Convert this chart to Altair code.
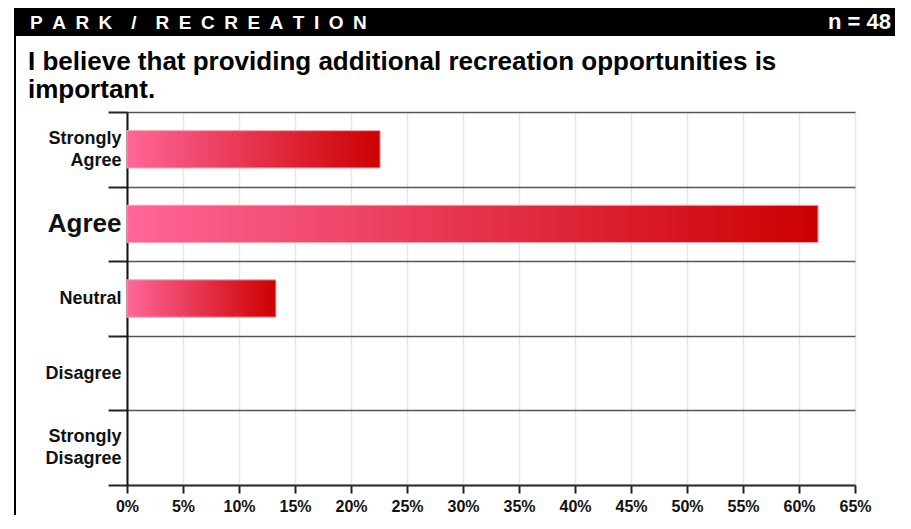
import altair as alt
import pandas as pd

categories = ["Strongly Agree", "Agree", "Neutral", "Disagree", "Strongly Disagree"]
percents = [22.6, 61.7, 13.3, 0.0, 0.0]
x_ticks = [0, 5, 10, 15, 20, 25, 30, 35, 40, 45, 50, 55, 60, 65]

banner_text = "\u2002".join(list("PARK")) + "\u2002\u2002/\u2002\u2002" + "\u2002".join(list("RECREATION"))
n_text = "n\u00a0=\u00a048"
question_lines = ["I believe that providing additional recreation opportunities is", "important."]

FONT = "Liberation Sans"

df = pd.DataFrame({"category": categories, "pct": percents})
one = pd.DataFrame({"k": [0]})

grad = alt.Gradient(
    gradient="linear",
    stops=[alt.GradientStop(color="#ff6699", offset=0), alt.GradientStop(color="#cc0000", offset=1)],
    x1=0, x2=1, y1=0, y2=0,
)

bars = alt.Chart(df).transform_filter("datum.pct > 0").mark_bar(
    color=grad, stroke="#f5a3ad", strokeWidth=1, height=alt.RelativeBandSize(band=0.5)
).encode(
    x=alt.X("pct:Q", scale=alt.Scale(domain=[0, 65], nice=False, zero=True),
            axis=alt.Axis(values=x_ticks, labelExpr="datum.value + '%'", title=None,
                          grid=True, gridColor="#e6e6e6", gridWidth=1.5,
                          domainColor="#333333", domainWidth=2,
                          tickColor="#222222", tickWidth=2, tickSize=8,
                          labelFont=FONT, labelFontSize=16, labelFontWeight="bold",
                          labelColor="#111111", labelPadding=5, labelFlush=False)),
    y=alt.Y("category:N", sort=categories,
            scale=alt.Scale(domain=categories, paddingInner=0, paddingOuter=0),
            axis=alt.Axis(title=None, tickBand="extent", grid=True, gridColor="#555555", gridWidth=1.5,
                          domainColor="#111111", domainWidth=2,
                          tickColor="#222222", tickWidth=2, tickSize=19,
                          labelExpr="isValid(datum.value) ? split(datum.value, ' ') : ''",
                          labelFont=FONT, labelFontWeight="bold", labelColor="#111111",
                          labelFontSize=alt.ExprRef("datum.value == 'Agree' ? 26 : 18"),
                          labelOffset=alt.ExprRef("isValid(datum.value) && indexof(datum.value, 'Strongly') == 0 ? -11 : 0"),
                          labelLineHeight=22, labelPadding=-13)),
)

banner = alt.Chart(one).mark_rect(color="#000000").encode(
    x=alt.value(-113), x2=alt.value(775), y=alt.value(-104), y2=alt.value(-76)
)
box = alt.Chart(one).mark_rect(fill=None, stroke="#000000", strokeWidth=2, filled=False).encode(
    x=alt.value(-112), x2=alt.value(774), y=alt.value(-77), y2=alt.value(440)
)
banner_label = alt.Chart(one).mark_text(
    font=FONT, fontSize=19, fontWeight="bold", color="white", align="left", baseline="alphabetic"
).encode(x=alt.value(-97), y=alt.value(-83), text=alt.value(banner_text))
n_label = alt.Chart(one).mark_text(
    font=FONT, fontSize=22, fontWeight="bold", color="white", align="right", baseline="alphabetic"
).encode(x=alt.value(764), y=alt.value(-83), text=alt.value(n_text))
question = alt.Chart(one).mark_text(
    font=FONT, fontSize=26, fontWeight="bold", color="#000000", align="left", baseline="alphabetic",
    lineHeight=28
).encode(x=alt.value(-99), y=alt.value(-42), text=alt.value(question_lines))

chart = alt.layer(box, banner, banner_label, n_label, question, bars).properties(
    width=728, height=373,
    autosize=alt.AutoSizeParams(type="none"),
    padding={"left": 119, "top": 104, "right": 40, "bottom": 30},
).configure_view(stroke="#444444", strokeWidth=2).configure(background="white")

chart.save("out.html", embed_options={"renderer": "svg", "actions": False})
